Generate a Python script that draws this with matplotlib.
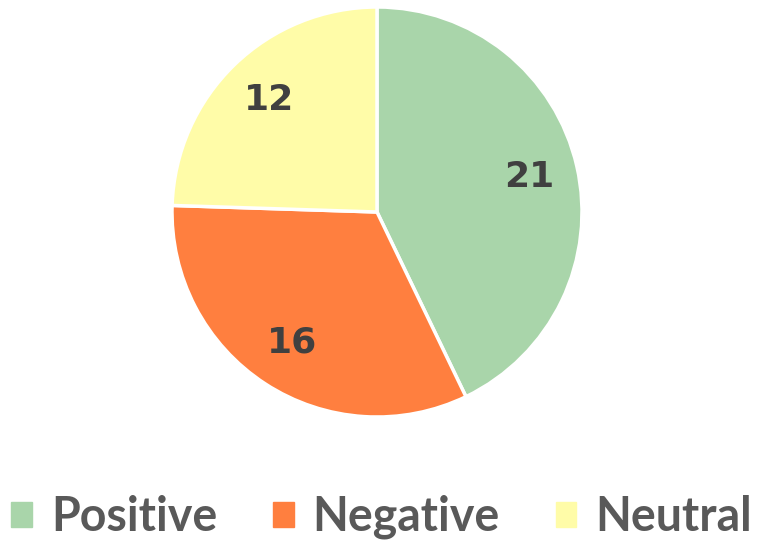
import matplotlib.pyplot as plt
import matplotlib.patches as patches

labels = ['Positive', 'Negative', 'Neutral']
values = [21, 16, 12]
colors = ['#A9D5AA', '#FF7F3F', '#FFFCA8']

fig = plt.figure(figsize=(7.63, 5.45), dpi=100)
ax = fig.add_axes([(377 - 205) / 763, (545 - 212 - 205) / 545, 410 / 763, 410 / 545])

wedges, texts, autotexts = ax.pie(
    values,
    colors=colors,
    startangle=90,
    counterclock=False,
    autopct=lambda p: '%d' % round(p * sum(values) / 100),
    pctdistance=0.76,
    wedgeprops=dict(edgecolor='white', linewidth=2.5),
)
for t in autotexts:
    t.set_fontsize(26)
    t.set_fontweight('bold')
    t.set_color('#404040')
    t.set_family('DejaVu Sans')

ax.set_xlim(-1, 1)
ax.set_ylim(-1, 1)
ax.set_aspect('equal')

handles = [patches.Patch(color=c) for c in colors]
fig.legend(
    handles, labels,
    loc='center', bbox_to_anchor=(0.5, 28 / 545),
    ncol=3, frameon=False,
    prop=dict(family='Lato', weight='bold', size=33.5),
    labelcolor='#595959',
    handlelength=0.45, handleheight=0.45,
    handletextpad=0.4, columnspacing=1.2,
)

fig.savefig('out.png', dpi=100)
